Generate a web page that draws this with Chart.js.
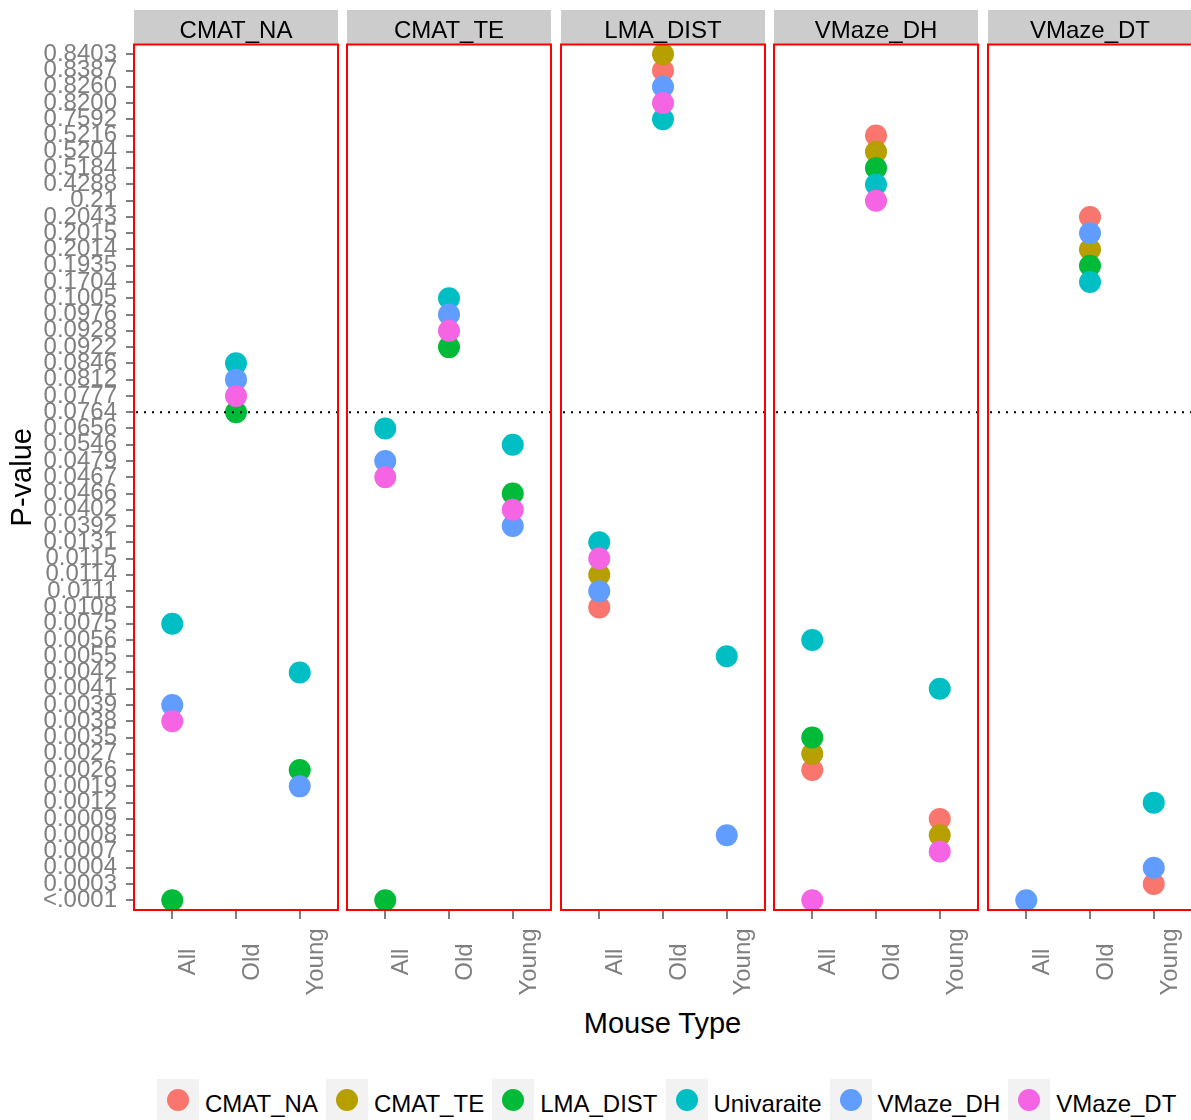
<!DOCTYPE html>
<html lang="en">
<head>
<meta charset="UTF-8">
<title>P-value by mouse type</title>
<script src="https://cdn.jsdelivr.net/npm/chart.js"></script>
<style>
    body { margin: 0; background: #fff; font-family: "Liberation Sans", Arial, sans-serif; }
    .figure { position: relative; width: 1191px; height: 1120px; overflow: hidden; }
    .panel { position: absolute; top: 0; height: 1000px; }
    .xtitle { position: absolute; left: 134px; width: 1057px; top: 1006px; text-align: center; font-size: 29px; line-height: 34px; color: #000; }
    .legend { position: absolute; left: 157px; top: 1079px; display: flex; white-space: nowrap; }
    .legend-item { display: flex; align-items: center; margin-right: 8px; }
    .legend-key { width: 42px; height: 42px; background: #f2f2f2; position: relative; }
    .legend-key span { position: absolute; left: 10px; top: 10px; width: 22px; height: 22px; border-radius: 50%; }
    .legend-text { font-size: 24px; margin-left: 6px; padding-top: 8px; color: #000; }
</style>
</head>
<body>
<div class="figure" id="figure">
    <div class="xtitle">Mouse Type</div>
    <div class="legend" id="legend"></div>
</div>

<script>
    var mouseTypes = ['All', 'Old', 'Young'];
    var facetNames = ['CMAT_NA', 'CMAT_TE', 'LMA_DIST', 'VMaze_DH', 'VMaze_DT'];
    var methods = ['CMAT_NA', 'CMAT_TE', 'LMA_DIST', 'Univaraite', 'VMaze_DH', 'VMaze_DT'];
    var methodColors = ['#F8766D', '#B79F00', '#00BA38', '#00BFC4', '#619CFF', '#F564E3'];

    // discrete p-value axis, top to bottom
    var pLabels = ['0.8403', '0.8387', '0.8260', '0.8200', '0.7592', '0.5216', '0.5204', '0.5184', '0.4288', '0.21',
        '0.2043', '0.2015', '0.2014', '0.1935', '0.1704', '0.1005', '0.0976', '0.0928', '0.0922', '0.0846',
        '0.0812', '0.0777', '0.0764', '0.0656', '0.0546', '0.0479', '0.0467', '0.0466', '0.0402', '0.0392',
        '0.0131', '0.0115', '0.0114', '0.0111', '0.0108', '0.0075', '0.0056', '0.0055', '0.0042', '0.0041',
        '0.0039', '0.0038', '0.0035', '0.0027', '0.0026', '0.0019', '0.0012', '0.0009', '0.0008', '0.0007',
        '0.0004', '0.0003', '<.0001'];
    var cutoff = '0.0764';

    // rows follow methods, columns follow mouseTypes (null = no point)
    var pCMAT_NA = [
        [null, null, null],
        [null, null, null],
        ['<.0001', '0.0764', '0.0026'],
        ['0.0075', '0.0846', '0.0042'],
        ['0.0039', '0.0812', '0.0019'],
        ['0.0038', '0.0777', null]
    ];
    var pCMAT_TE = [
        [null, null, null],
        [null, null, null],
        ['<.0001', '0.0922', '0.0466'],
        ['0.0656', '0.1005', '0.0546'],
        ['0.0479', '0.0976', '0.0392'],
        ['0.0467', '0.0928', '0.0402']
    ];
    var pLMA_DIST = [
        ['0.0108', '0.8387', null],
        ['0.0114', '0.8403', null],
        [null, null, null],
        ['0.0131', '0.7592', '0.0055'],
        ['0.0111', '0.8260', '0.0008'],
        ['0.0115', '0.8200', null]
    ];
    var pVMaze_DH = [
        ['0.0026', '0.5216', '0.0009'],
        ['0.0027', '0.5204', '0.0008'],
        ['0.0035', '0.5184', null],
        ['0.0056', '0.4288', '0.0041'],
        [null, null, null],
        ['<.0001', '0.21', '0.0007']
    ];
    var pVMaze_DT = [
        [null, '0.2043', '0.0003'],
        [null, '0.2014', null],
        [null, '0.1935', null],
        [null, '0.1704', '0.0012'],
        ['<.0001', '0.2015', '0.0004'],
        [null, null, null]
    ];
    var facetData = [pCMAT_NA, pCMAT_TE, pLMA_DIST, pVMaze_DH, pVMaze_DT];

    var panelLeft = [134, 347, 561, 774, 988];
    var panelWidth = 204;
    var fontFamily = '"Liberation Sans", Arial, sans-serif';
    Chart.defaults.font.family = fontFamily;

    // grey strip with facet name, red panel border, dotted cutoff line, x labels
    var facetPlugin = {
        id: 'facet',
        beforeDraw(chart, args, opts) {
            var ctx = chart.ctx, a = chart.chartArea;
            ctx.save();
            ctx.fillStyle = '#CCCCCC';
            ctx.fillRect(a.left, 10, a.right - a.left, a.top - 10);
            ctx.fillStyle = '#000';
            ctx.font = '24px ' + fontFamily;
            ctx.textAlign = 'center';
            ctx.textBaseline = 'middle';
            ctx.fillText(opts.text, (a.left + a.right) / 2, 31);
            ctx.restore();
        },
        afterDatasetsDraw(chart) {
            var ctx = chart.ctx, a = chart.chartArea;
            var yc = chart.scales.y.getPixelForValue(pLabels.indexOf(cutoff));
            ctx.save();
            ctx.strokeStyle = '#000';
            ctx.lineWidth = 2;
            ctx.setLineDash([2, 6]);
            ctx.beginPath();
            ctx.moveTo(a.left + 2, yc);
            ctx.lineTo(a.right, yc);
            ctx.stroke();
            ctx.setLineDash([]);
            ctx.strokeStyle = '#FF0000';
            ctx.lineWidth = 2;
            ctx.strokeRect(a.left, a.top, a.right - a.left, a.bottom - a.top);
            ctx.restore();
        },
        afterDraw(chart) {
            var ctx = chart.ctx, sx = chart.scales.x;
            ctx.save();
            ctx.fillStyle = '#7F7F7F';
            ctx.font = '24px ' + fontFamily;
            ctx.textAlign = 'center';
            ctx.textBaseline = 'alphabetic';
            mouseTypes.forEach(function (t, j) {
                ctx.save();
                ctx.translate(sx.getPixelForValue(j + 1) + 23, 962);
                ctx.rotate(-Math.PI / 2);
                ctx.fillText(t, 0, 0);
                ctx.restore();
            });
            ctx.restore();
        }
    };

    function criarPainel(f) {
        var first = f === 0;
        var padLeft = first ? 134 : 4;
        var div = document.createElement('div');
        div.className = 'panel';
        div.style.left = (panelLeft[f] - padLeft) + 'px';
        div.style.width = (padLeft + panelWidth + 4) + 'px';
        var canvas = document.createElement('canvas');
        div.appendChild(canvas);
        document.getElementById('figure').appendChild(div);

        var rows = facetData[f];
        var datasets = methods.map(function (m, i) {
            var pts = [];
            mouseTypes.forEach(function (t, j) {
                if (rows[i][j] !== null) pts.push({ x: j + 1, y: pLabels.indexOf(rows[i][j]) });
            });
            return {
                label: m,
                data: pts,
                backgroundColor: methodColors[i],
                borderWidth: 0,
                pointRadius: 11,
                pointHoverRadius: 11,
                order: -i
            };
        });

        new Chart(canvas, {
            type: 'scatter',
            data: { datasets: datasets },
            plugins: [facetPlugin],
            options: {
                responsive: true,
                maintainAspectRatio: false,
                animation: false,
                layout: { autoPadding: false, padding: { top: 44.5, left: first ? 0 : 4, right: 4, bottom: 0 } },
                plugins: {
                    legend: { display: false },
                    tooltip: { enabled: false },
                    facet: { text: facetNames[f] }
                },
                scales: {
                    x: {
                        type: 'linear',
                        min: 0.4,
                        max: 3.6,
                        afterBuildTicks: function (s) { s.ticks = mouseTypes.map(function (t, j) { return { value: j + 1 }; }); },
                        afterFit: function (s) { s.height = 90; },
                        ticks: { display: false },
                        grid: { drawOnChartArea: false, tickLength: 9, color: '#7F7F7F', lineWidth: 2 },
                        border: { display: false }
                    },
                    y: {
                        type: 'linear',
                        reverse: true,
                        min: -0.6,
                        max: pLabels.length - 0.4,
                        display: first,
                        afterBuildTicks: function (s) { s.ticks = pLabels.map(function (p, i) { return { value: i }; }); },
                        afterFit: function (s) { s.width = first ? 134 : 0; },
                        ticks: {
                            autoSkip: false,
                            padding: 9,
                            color: '#7F7F7F',
                            font: { size: 24 },
                            callback: function (v) { return pLabels[v]; }
                        },
                        grid: { drawOnChartArea: false, tickLength: 8, color: '#7F7F7F', lineWidth: 2 },
                        border: { display: false },
                        title: { display: true, text: 'P-value', color: '#000', font: { size: 29 }, padding: { top: 6 } }
                    }
                }
            }
        });
    }

    for (var f = 0; f < facetNames.length; f++) {
        criarPainel(f);
    }

    var legend = document.getElementById('legend');
    methods.forEach(function (m, i) {
        legend.innerHTML +=
            `<div class="legend-item"><div class="legend-key"><span style="background:${methodColors[i]}"></span></div><div class="legend-text">${m}</div></div>`;
    });
</script>
</body>
</html>
